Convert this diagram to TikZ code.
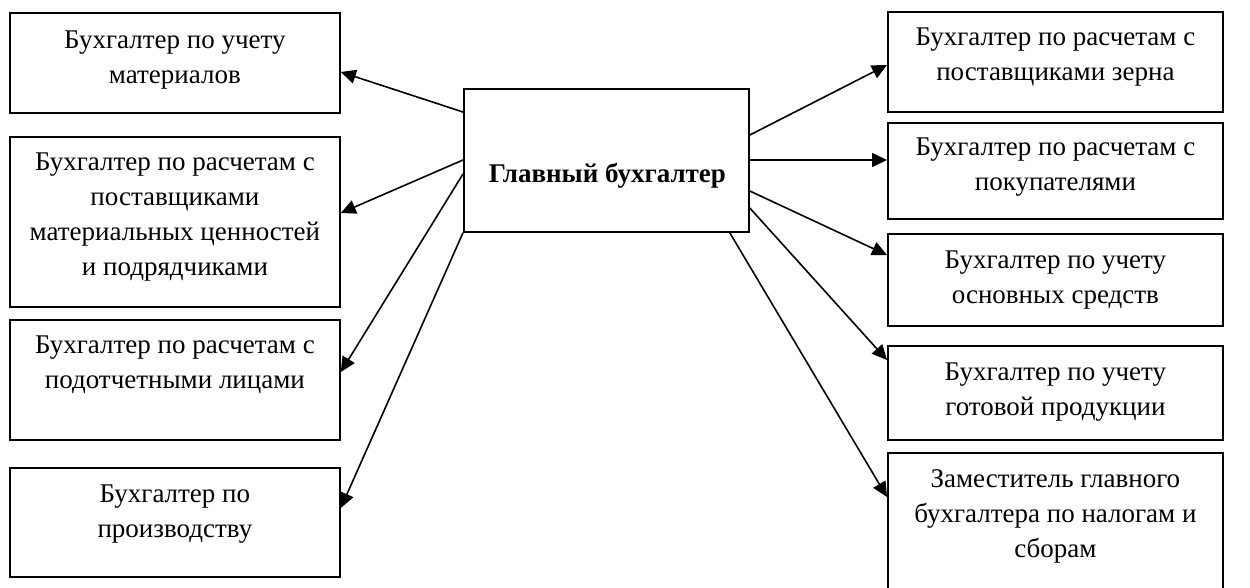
\documentclass[tikz,border=0pt]{standalone}
\usepackage{fontspec}
\setmainfont{Liberation Serif}
\usetikzlibrary{arrows.meta,calc}
\begin{document}
\begin{tikzpicture}[x=1pt,y=-1pt,
  box/.style={draw, line width=1.8pt, inner sep=0pt, anchor=north west},
  lbox/.style={box, minimum width=330pt},
  rbox/.style={box, minimum width=335pt},
  txt/.style={inner sep=0pt, anchor=base, font=\fontsize{27}{35}\selectfont},
  conn/.style={line width=1.6pt, -{Triangle[length=15pt,width=14pt]}}]
\useasboundingbox (0,0) rectangle (1250,587);
\clip (0,0) rectangle (1250,587);
% left boxes
\node[lbox, minimum height=100pt] (L1) at (9,12) {};
\node[lbox, minimum height=170pt] (L2) at (9,136) {};
\node[lbox, minimum height=120pt] (L3) at (9,319) {};
\node[lbox, minimum height=109pt] (L4) at (9,467) {};
% center
\node[box, minimum width=285pt, minimum height=143pt] (C) at (463,88) {};
% right boxes
\node[rbox, minimum height=100pt] (R1) at (887,11) {};
\node[rbox, minimum height=96pt] (R2) at (887,122) {};
\node[rbox, minimum height=92pt] (R3) at (887,233) {};
\node[rbox, minimum height=94pt] (R4) at (887,345) {};
\node[rbox, minimum height=150pt] (R5) at (887,452) {};
% texts
\node[txt] (L1t) at ($(L1.north)+(0,36)$) {\parbox[t]{325pt}{\centering Бухгалтер по учету\\материалов}};
\node[txt] (L2t) at ($(L2.north)+(0,34)$) {\parbox[t]{325pt}{\centering Бухгалтер по расчетам с\\поставщиками\\материальных ценностей\\и подрядчиками}};
\node[txt] (L3t) at ($(L3.north)+(0,34)$) {\parbox[t]{325pt}{\centering Бухгалтер по расчетам с\\подотчетными лицами}};
\node[txt] (L4t) at ($(L4.north)+(0,35)$) {\parbox[t]{325pt}{\centering Бухгалтер по\\производству}};
\node[txt, font=\fontsize{27}{35}\selectfont\bfseries] (Ct) at ($(C.center)+(1,22)$) {Главный бухгалтер};
\node[txt] (R1t) at ($(R1.north)+(0,34)$) {\parbox[t]{330pt}{\centering Бухгалтер по расчетам с\\поставщиками зерна}};
\node[txt] (R2t) at ($(R2.north)+(0,33)$) {\parbox[t]{330pt}{\centering Бухгалтер по расчетам с\\покупателями}};
\node[txt] (R3t) at ($(R3.north)+(0,35)$) {\parbox[t]{330pt}{\centering Бухгалтер по учету\\основных средств}};
\node[txt] (R4t) at ($(R4.north)+(0,35)$) {\parbox[t]{330pt}{\centering Бухгалтер по учету\\готовой продукции}};
\node[txt] (R5t) at ($(R5.north)+(0,35)$) {\parbox[t]{330pt}{\centering Заместитель главного\\бухгалтера по налогам и\\сборам}};
% connectors
\draw[conn] ($(C.north west)+(0,24)$) -- ($(L1.north east)+(0,60)$);
\draw[conn] ($(C.north west)+(0,72)$) -- ($(L2.north east)+(0,77)$);
\draw[conn] ($(C.north west)+(0,86)$) -- ($(L3.north east)+(0,53)$);
\draw[conn] (C.south west) -- ($(L4.north east)+(0,41)$);
\draw[conn] ($(C.north east)+(0,47)$) -- ($(R1.north west)+(0,54)$);
\draw[conn] ($(C.north east)+(0,72)$) -- ($(R2.north west)+(0,38)$);
\draw[conn] ($(C.north east)+(0,103)$) -- ($(R3.north west)+(0,22)$);
\draw[conn] ($(C.north east)+(0,120)$) -- ($(R4.north west)+(0,15)$);
\draw[conn] ($(C.south east)+(-20,0)$) -- ($(R5.north west)+(0,45)$);
\end{tikzpicture}
\end{document}
